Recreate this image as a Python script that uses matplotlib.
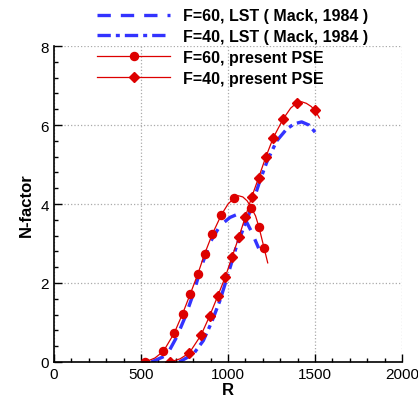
import matplotlib.pyplot as plt
import numpy as np

plt.rcParams['font.family'] = ['Liberation Sans', 'DejaVu Sans']

# LST (Mack, 1984) curves
lst60_r = [560, 648, 705, 753, 797, 849, 897, 954, 1011, 1059, 1107, 1136, 1176]
lst60_n = [0.0, 0.17, 0.63, 1.13, 1.68, 2.44, 3.03, 3.45, 3.66, 3.75, 3.54, 3.29, 2.88]
lst40_r = [720, 801, 858, 906, 954, 992, 1050, 1117, 1184, 1226, 1280, 1337, 1380, 1423, 1465, 1500]
lst40_n = [0.0, 0.2, 0.54, 1.01, 1.56, 2.1, 2.95, 3.7, 4.6, 5.1, 5.6, 5.9, 6.03, 6.08, 6.0, 5.82]

# present PSE markers
pse60_r = [525, 629, 691, 739, 783, 826, 865, 910, 962, 1035, 1133, 1178, 1207]
pse60_n = [0.0, 0.27, 0.73, 1.22, 1.72, 2.22, 2.73, 3.24, 3.73, 4.15, 3.91, 3.41, 2.89]
pse40_r = [667, 778, 845, 894, 941, 985, 1023, 1062, 1100, 1137, 1176, 1217, 1260, 1316, 1397, 1500]
pse40_n = [0.0, 0.23, 0.68, 1.16, 1.67, 2.16, 2.66, 3.16, 3.68, 4.19, 4.67, 5.19, 5.68, 6.15, 6.57, 6.37]

# PSE lines (extend a little past the last marker)
line60_r = [525, 580, 629, 691, 739, 783, 826, 865, 910, 962, 1000, 1035, 1060, 1085,
            1110, 1133, 1158, 1178, 1207, 1228]
line60_n = [0.0, 0.1, 0.27, 0.73, 1.22, 1.72, 2.22, 2.73, 3.24, 3.73, 4.0, 4.15, 4.21, 4.18,
            4.08, 3.91, 3.7, 3.41, 2.89, 2.51]
line40_r = [667, 725, 778, 845, 894, 941, 985, 1023, 1062, 1100, 1137, 1176, 1217, 1260,
            1316, 1360, 1397, 1423, 1450, 1478, 1500, 1525]
line40_n = [0.0, 0.08, 0.23, 0.68, 1.16, 1.67, 2.16, 2.66, 3.16, 3.68, 4.19, 4.67, 5.19, 5.68,
            6.15, 6.43, 6.57, 6.59, 6.55, 6.47, 6.37, 6.18]

blue = '#3333ff'
red = '#dd0000'

fig = plt.figure(figsize=(4.18, 4.06), dpi=100)
ax = fig.add_axes([0.129, 0.106, 0.833, 0.778])

ax.plot(lst60_r, lst60_n, color=blue, lw=2.4, dashes=(4, 3), label='F=60, LST ( Mack, 1984 )')
ax.plot(lst40_r, lst40_n, color=blue, lw=2.4, dashes=(4, 1.5, 1.2, 1.5), label='F=40, LST ( Mack, 1984 )')

ax.plot(line60_r, line60_n, color=red, lw=0.9)
ax.plot(pse60_r, pse60_n, 'o', color=red, ms=5.8)
ax.plot(line40_r, line40_n, color=red, lw=0.9)
ax.plot(pse40_r, pse40_n, 'D', color=red, ms=5)

# legend proxies
ax.plot([], [], color=red, lw=0.9, marker='o', ms=5.8, label='F=60, present PSE')
ax.plot([], [], color=red, lw=0.9, marker='D', ms=5, label='F=40, present PSE')

ax.set_xlim(0, 2000)
ax.set_ylim(0, 8)
ax.set_xticks(np.arange(0, 2001, 500))
ax.set_yticks(np.arange(0, 9, 2))
ax.set_xticks(np.arange(0, 2001, 100), minor=True)
ax.set_yticks(np.arange(0, 8.01, 0.4), minor=True)
ax.tick_params(which='major', direction='in', length=6, width=1, labelsize=11, colors='black')
ax.tick_params(which='minor', direction='in', length=3, width=1)
ax.grid(True, which='major', linestyle=':', color='#aaaaaa', lw=0.9)
for s in ['top', 'right']:
    ax.spines[s].set_visible(False)
for s in ['left', 'bottom']:
    ax.spines[s].set_linewidth(1.2)

ax.set_xlabel('R', fontsize=12, fontweight='bold', labelpad=1)
ax.set_ylabel('N-factor', fontsize=12, fontweight='bold', labelpad=5)

leg = ax.legend(loc='lower left', bbox_to_anchor=(0.105, 0.855), frameon=False,
                prop={'weight': 'bold', 'size': 11.5}, handlelength=4.6,
                labelspacing=0.36, handletextpad=0.8, borderaxespad=0)

fig.savefig('out.png', dpi=100)
